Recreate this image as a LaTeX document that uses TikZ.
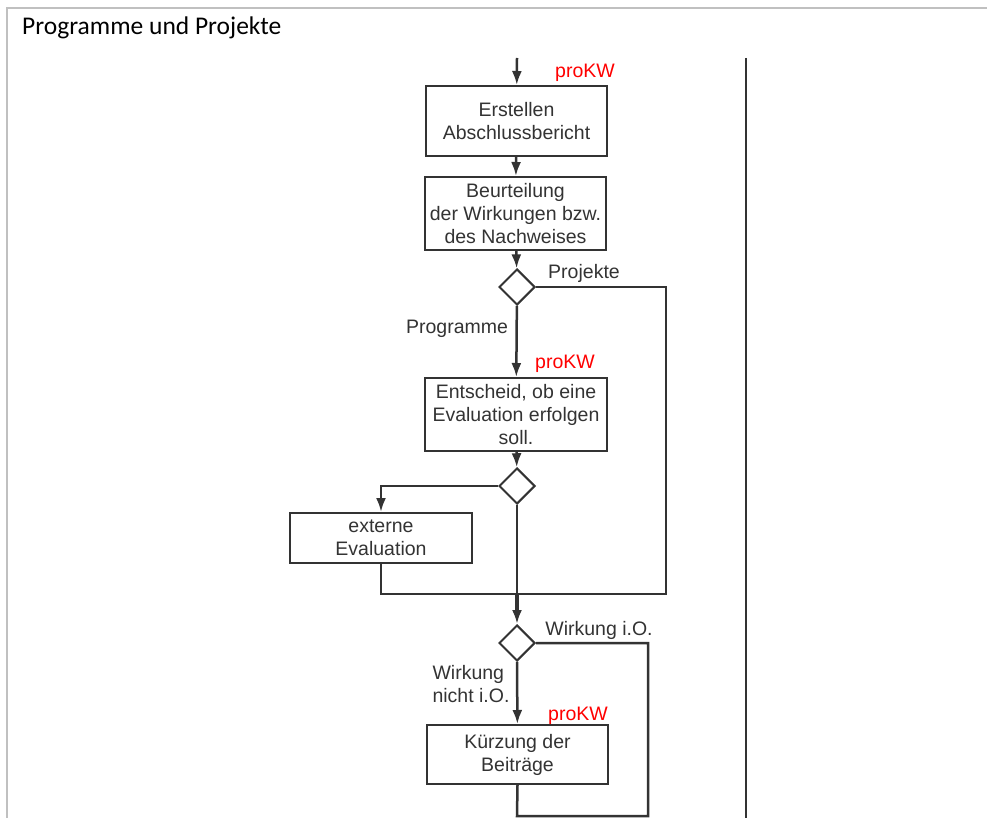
\documentclass[tikz,border=0pt]{standalone}
\usepackage{fontspec}
\setmainfont{Liberation Sans}
\newfontfamily\titlefont{Carlito}
\usetikzlibrary{arrows.meta,shapes.geometric}
\definecolor{ink}{HTML}{333333}
\definecolor{framegray}{HTML}{C0C0C0}
\colorlet{kwred}{red}

\begin{document}
\begin{tikzpicture}[x=1pt,y=-1pt]
  \tikzset{bx/.style={draw=ink, line width=2pt, text=ink, align=center, inner sep=0pt, font=\fontsize{19.5}{23}\selectfont},
    dec/.style={draw=ink, line width=2pt, diamond, aspect=1, minimum width=36pt, minimum height=36pt, inner sep=0pt},
    lbl/.style={text=ink, inner sep=0pt, font=\fontsize{19.5}{23}\selectfont},
    kw/.style={text=kwred, inner sep=0pt, font=\fontsize{19.5}{23}\selectfont},
    flow/.style={draw=ink, line width=2.5pt},
    arr/.style={flow, -{Latex[length=14pt,width=10pt]}}}
\useasboundingbox (0,0) rectangle (987,818);
\draw[framegray, line width=2pt] (7,818) -- (7,8) -- (987,8);
\node[anchor=base west, inner sep=0pt, text=black, font=\titlefont\fontsize{25.5}{30}\selectfont] (title) at (22,35) {Programme und Projekte};
\draw[ink, line width=2pt] (746,58) -- (746,818);
\node[bx, minimum width=181pt, minimum height=70pt] (ab) at (516.5,121) {Erstellen\\Abschlussbericht};
\node[bx, minimum width=181pt, minimum height=73pt] (bw) at (515.5,213.5) {Beurteilung\\der Wirkungen bzw.\\des Nachweises};
\node[dec] (d1) at (517,287) {};
\node[bx, minimum width=182pt, minimum height=73pt] (ev) at (516,414.5) {Entscheid, ob eine\\Evaluation erfolgen\\soll.};
\node[dec] (d2) at (517,486) {};
\node[bx, minimum width=182pt, minimum height=50pt] (ext) at (381,538) {externe\\Evaluation};
\node[dec] (d3) at (517,643) {};
\node[bx, minimum width=181pt, minimum height=59pt] (kb) at (517.5,754.5) {K\"urzung der\\Beitr\"age};
\coordinate (in) at (517,58);
\coordinate (mg) at (517,594); \coordinate (mgl) at (381,594); \coordinate (mgr) at (666,594);
\coordinate (lpl) at (517,816); \coordinate (lpr) at (648,816);
\draw[arr] (in) -- (ab); \draw[arr] (ab) -- (bw); \draw[arr] (bw) -- (d1);
\draw[arr] (d1) -- (ev); \draw[arr] (ev) -- (d2);
\draw[arr] (d2.west) -| (ext.north);
\draw[flow] (d1.east) -| (mgr) -- (mgl) -- (ext.south);
\draw[flow] (d2.south) -- (mg); \draw[arr, line width=3.5pt] (mg) -- (d3);
\draw[arr] (d3) -- (kb);
\draw[flow] (d3.east) -| (lpr) -- (lpl) -- (kb.south);
\node[lbl] (pj) at (584,273) {Projekte};
\node[lbl] (pg) at (457,329) {Programme};
\node[lbl] (wok) at (599,630) {Wirkung i.O.};
\node[lbl, align=left] (wnok) at (471,684) {Wirkung\\nicht i.O.};
\node[kw] (kw1) at (585,73) {proKW};
\node[kw] (kw2) at (565,364) {proKW};
\node[kw] (kw3) at (578,716) {proKW};
\end{tikzpicture}
\end{document}
